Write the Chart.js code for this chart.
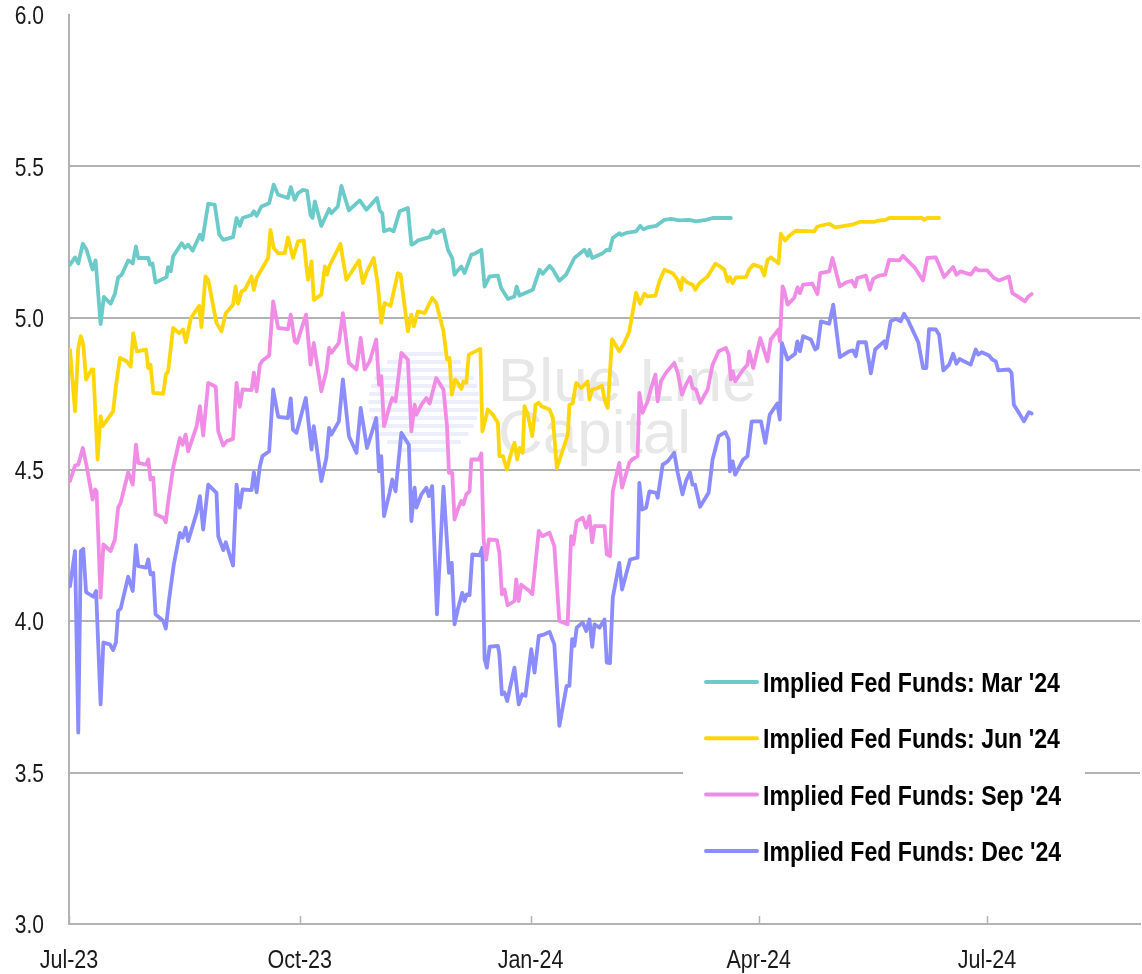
<!DOCTYPE html>
<html><head><meta charset="utf-8">
<script src="https://cdn.jsdelivr.net/npm/chart.js@4.4.1/dist/chart.umd.min.js"></script>
<style>html,body{margin:0;padding:0;background:#fff;overflow:hidden}#wrap{position:relative;width:1142px;height:974px}</style>
</head><body><div id="wrap"><canvas id="c" width="1142" height="974"></canvas></div>
<script>
// x values are days since 1 Jul 2023
const seriesNames = ["Implied Fed Funds: Mar '24","Implied Fed Funds: Jun '24","Implied Fed Funds: Sep '24","Implied Fed Funds: Dec '24"];
const seriesColors = ['#6ccbc8','#ffd60a','#f08ce6','#8a8cff'];
const xTickDays = [0, 92, 184, 275, 366];
const xTickLabels = ['Jul-23','Oct-23','Jan-24','Apr-24','Jul-24'];
const yTickValues = [3.0, 3.5, 4.0, 4.5, 5.0, 5.5, 6.0];

const marDays = [0.4,2.4,3.7,5.5,7.0,9.4,10.6,12.6,13.9,16.6,
18.3,19.6,21.0,23.6,25.4,26.7,27.6,31.6,32.3,33.3,
34.5,38.9,39.5,40.6,41.5,44.9,46.2,47.5,49.3,52.2,
53.2,55.5,58.1,59.9,61.5,65.4,66.8,68.1,69.2,72.8,
73.7,74.8,76.7,79.8,81.6,83.4,87.3,88.4,90.0,91.3,
93.3,94.9,96.3,97.1,98.0,100.6,102.6,103.7,104.6,107.2,
108.6,109.9,111.6,115.9,118.6,122.8,123.9,124.9,125.6,127.8,
129.4,131.8,135.1,136.5,137.8,139.1,143.8,145.1,146.4,149.3,
151.1,152.8,153.7,155.0,156.4,157.7,160.4,161.7,164.4,165.7,
167.7,171.0,172.3,175.0,177.6,178.5,179.6,184.9,187.6,188.9,
191.6,192.9,195.5,198.2,201.5,205.5,206.8,207.5,208.6,212.8,
214.4,215.5,216.8,219.4,220.1,222.7,226.1,227.7,229.0,230.7,
234.1,237.4,240.0,243.3,247.3,250.0,254.0,256.6,263.9];
const marVals = [5.176,5.20,5.18,5.245,5.225,5.16,5.19,4.98,5.07,5.047,
5.08,5.134,5.143,5.19,5.18,5.236,5.198,5.198,5.176,5.18,
5.117,5.135,5.168,5.154,5.203,5.247,5.231,5.242,5.222,5.275,
5.258,5.377,5.374,5.275,5.258,5.267,5.33,5.304,5.33,5.34,
5.352,5.337,5.368,5.379,5.44,5.407,5.396,5.432,5.39,5.412,
5.423,5.42,5.34,5.33,5.385,5.304,5.34,5.36,5.346,5.368,
5.436,5.40,5.355,5.388,5.357,5.396,5.355,5.346,5.286,5.293,
5.286,5.352,5.363,5.242,5.247,5.256,5.267,5.289,5.28,5.291,
5.225,5.198,5.143,5.157,5.17,5.148,5.209,5.212,5.225,5.104,
5.137,5.14,5.099,5.063,5.071,5.104,5.074,5.093,5.159,5.146,
5.172,5.16,5.123,5.143,5.198,5.225,5.205,5.225,5.198,5.214,
5.225,5.223,5.264,5.28,5.274,5.282,5.286,5.304,5.293,5.299,
5.304,5.324,5.327,5.322,5.324,5.319,5.324,5.33,5.33];

const junDays = [0.4,2.4,3.7,4.7,5.7,6.8,9.0,9.7,11.4,12.6,
13.4,17.6,18.7,20.3,23.0,24.6,25.6,27.0,30.7,31.6,
32.5,33.6,37.6,38.6,39.5,41.5,43.9,45.5,46.6,48.6,
51.9,52.8,54.4,55.5,58.8,60.8,62.5,65.4,66.4,67.4,
68.8,70.1,72.8,73.7,74.8,79.4,80.3,81.6,83.4,86.0,
87.3,89.3,90.7,91.3,93.6,94.7,95.3,96.7,97.6,100.6,
102.0,102.9,103.7,108.2,110.6,115.6,117.2,118.8,121.5,123.2,
124.5,125.8,128.2,131.1,132.2,135.1,136.5,137.5,139.1,141.8,
144.8,146.4,149.3,150.7,151.7,152.6,154.0,155.0,156.4,157.3,
158.4,159.4,164.0,164.8,167.0,169.0,171.0,171.6,173.0,174.6,
176.3,177.6,178.7,179.6,180.9,181.6,182.9,184.7,186.0,187.3,
188.3,191.6,192.9,194.5,198.9,199.5,200.8,202.2,204.2,206.8,
207.5,208.6,210.8,212.5,213.5,214.8,216.5,219.4,221.4,223.4,
226.1,227.7,229.4,230.7,233.8,235.4,237.4,240.7,242.7,244.0,
244.6,246.6,248.6,249.7,251.3,254.6,257.7,259.3,261.3,262.6,
263.5,264.6,265.9,269.9,271.2,272.8,275.9,277.2,278.5,279.8,
282.9,283.8,285.5,287.1,289.8,297.1,298.4,303.1,305.5,312.3,
315.0,321.0,322.3,325.7,327.0,340.2,340.9,342.2,346.9];
const junVals = [4.895,4.692,4.901,4.94,4.912,4.797,4.83,4.83,4.533,4.676,
4.643,4.692,4.775,4.868,4.857,4.84,4.95,4.89,4.896,4.835,
4.846,4.753,4.75,4.813,4.824,4.967,4.95,4.962,4.92,5.0,
5.04,4.97,5.137,5.126,4.984,4.956,5.016,5.044,5.104,5.047,
5.088,5.093,5.137,5.093,5.132,5.198,5.291,5.231,5.214,5.214,
5.266,5.198,5.236,5.253,5.256,5.165,5.126,5.187,5.06,5.077,
5.17,5.143,5.17,5.244,5.126,5.19,5.115,5.154,5.198,5.104,
4.984,5.05,5.04,5.148,5.143,4.956,5.011,4.973,5.022,5.016,
5.066,5.05,4.956,4.863,4.868,4.747,4.797,4.786,4.766,4.791,
4.786,4.879,4.898,4.626,4.698,4.681,4.654,4.544,4.544,4.5,
4.555,4.588,4.533,4.571,4.555,4.709,4.681,4.61,4.714,4.72,
4.709,4.698,4.67,4.505,4.615,4.714,4.718,4.786,4.769,4.791,
4.731,4.764,4.769,4.777,4.731,4.703,4.93,4.89,4.918,4.956,
5.084,5.047,5.08,5.071,5.074,5.121,5.159,5.148,5.126,5.093,
5.132,5.117,5.11,5.093,5.115,5.137,5.179,5.172,5.159,5.121,
5.135,5.115,5.134,5.135,5.16,5.176,5.168,5.14,5.192,5.2,
5.181,5.278,5.256,5.271,5.288,5.286,5.302,5.311,5.299,5.308,
5.317,5.317,5.321,5.324,5.33,5.33,5.324,5.33,5.33];

const sepDays = [0.4,2.4,3.7,5.5,7.0,9.4,10.4,11.0,12.6,13.7,
16.6,18.3,19.6,20.6,23.6,25.4,26.7,27.6,30.7,31.6,
32.5,33.6,34.5,37.6,38.6,39.5,41.5,44.2,45.3,46.5,
47.5,50.9,52.2,53.5,55.5,58.5,59.5,61.5,62.8,65.4,
66.8,68.1,69.2,72.8,73.7,74.8,76.1,77.1,79.8,81.4,
83.4,87.3,88.4,90.0,90.9,94.5,96.3,97.6,100.6,102.6,
103.7,104.6,107.6,109.2,111.6,114.6,116.3,117.9,119.9,122.5,
123.6,124.5,125.6,127.8,128.9,130.2,132.5,135.1,136.5,137.8,
138.5,140.5,142.5,143.8,146.4,149.3,150.7,151.5,152.8,153.7,
155.0,156.4,157.3,158.4,159.7,160.4,163.4,164.4,165.3,166.3,
167.4,170.6,171.6,172.6,173.6,174.9,177.6,178.3,179.3,180.3,
183.6,184.7,187.3,188.7,191.6,193.5,195.5,198.8,200.2,201.1,
202.4,204.8,206.2,207.5,208.6,209.5,213.5,214.4,215.7,216.8,
219.4,220.5,223.4,224.5,226.7,227.4,228.7,230.7,232.1,233.8,
234.7,236.0,238.0,241.3,242.7,244.4,246.0,247.6,248.6,250.0,
251.7,254.6,256.6,259.0,261.9,263.0,263.9,264.6,265.6,268.8,
270.5,271.2,272.8,275.6,278.5,279.8,282.9,283.4,284.5,285.1,
286.5,289.1,290.5,291.4,292.7,296.4,298.4,299.5,303.1,304.4,
307.3,309.7,312.1,313.4,314.3,317.7,319.3,320.6,323.0,325.4,
327.0,331.0,332.5,334.7,337.3,340.5,342.2,345.6,346.6,348.9,
352.5,353.8,355.5,359.5,361.5,362.5,366.1,368.8,370.8,374.7,
376.1,378.7,381.1,382.5,383.8];
const sepVals = [4.462,4.513,4.516,4.571,4.513,4.401,4.434,4.428,4.077,4.253,
4.231,4.269,4.374,4.39,4.491,4.45,4.582,4.522,4.516,4.533,
4.467,4.473,4.352,4.341,4.326,4.39,4.505,4.604,4.582,4.615,
4.56,4.643,4.709,4.612,4.786,4.773,4.626,4.579,4.593,4.601,
4.786,4.707,4.764,4.762,4.82,4.758,4.846,4.859,4.876,5.055,
4.967,4.963,5.011,4.923,4.918,5.011,4.846,4.918,4.758,4.824,
4.901,4.885,4.918,5.016,4.852,4.83,4.934,4.83,4.857,4.929,
4.78,4.808,4.643,4.709,4.736,4.725,4.885,4.863,4.626,4.714,
4.681,4.714,4.736,4.718,4.802,4.764,4.643,4.489,4.489,4.335,
4.368,4.396,4.385,4.418,4.428,4.533,4.533,4.553,4.269,4.203,
4.269,4.267,4.225,4.088,4.104,4.052,4.066,4.137,4.066,4.12,
4.099,4.088,4.297,4.28,4.291,4.247,4.0,3.989,4.28,4.253,
4.329,4.341,4.308,4.346,4.26,4.313,4.313,4.22,4.214,4.428,
4.522,4.44,4.522,4.533,4.544,4.753,4.687,4.725,4.769,4.813,
4.725,4.791,4.819,4.852,4.819,4.747,4.78,4.805,4.769,4.764,
4.72,4.764,4.846,4.89,4.901,4.879,4.797,4.824,4.791,4.83,
4.846,4.89,4.835,4.934,4.857,4.929,4.962,4.923,5.104,5.093,
5.044,5.066,5.101,5.082,5.11,5.113,5.079,5.148,5.154,5.198,
5.104,5.117,5.123,5.104,5.132,5.14,5.093,5.129,5.14,5.143,
5.192,5.19,5.205,5.187,5.165,5.124,5.198,5.2,5.181,5.135,
5.168,5.143,5.154,5.143,5.165,5.157,5.157,5.132,5.124,5.137,
5.082,5.069,5.055,5.071,5.079];

const decDays = [0.4,2.4,3.7,4.7,5.7,6.8,9.7,10.8,12.6,13.7,
16.3,17.6,18.7,19.6,20.6,23.6,25.4,26.7,27.6,30.7,
31.6,32.5,33.6,34.5,37.6,38.6,39.9,41.8,44.2,45.3,
46.5,47.5,50.9,52.2,53.5,55.5,58.8,59.5,61.5,62.5,
65.4,66.8,68.1,69.2,72.8,73.7,74.8,76.1,77.1,79.8,
81.4,83.4,87.3,88.4,89.3,90.7,94.4,96.7,97.6,100.6,
102.6,103.7,104.6,107.6,109.2,111.6,114.6,116.3,118.8,122.5,
123.6,124.5,125.6,127.8,128.9,130.2,132.5,135.5,136.5,137.8,
138.5,140.5,142.5,143.5,144.8,146.7,149.3,151.5,152.6,153.7,
155.0,156.8,157.7,158.6,159.7,160.8,163.7,164.8,165.7,166.6,
167.7,171.0,171.6,172.6,173.6,174.7,177.6,179.3,180.7,182.0,
184.3,185.6,187.3,189.6,191.6,193.5,195.5,198.4,199.5,200.6,
201.5,202.4,204.8,206.2,207.5,208.6,209.5,211.5,213.5,214.4,
215.7,216.8,219.4,220.5,223.7,226.7,227.4,228.5,230.1,231.4,
234.1,234.7,236.7,238.7,241.3,242.7,244.6,246.0,247.6,248.6,
249.6,251.6,255.0,256.6,259.0,261.7,263.0,263.5,264.6,265.6,
268.8,270.5,272.2,275.9,277.6,279.4,282.4,283.4,284.2,286.5,
289.5,290.4,291.4,292.7,295.8,297.5,298.4,299.8,303.1,304.7,
307.3,311.0,312.6,313.7,314.7,317.7,319.7,321.4,325.0,325.7,
327.6,329.6,331.6,332.9,334.6,335.6,338.6,340.5,341.8,342.9,
345.6,346.9,348.6,350.9,352.5,353.8,355.1,356.8,359.5,361.5,
362.5,363.9,366.8,368.1,369.5,370.5,374.7,375.8,376.7,378.7,
380.7,382.7,383.8];
const decVals = [4.115,4.231,3.632,4.231,4.238,4.095,4.08,4.099,3.725,3.929,
3.923,3.904,3.929,4.033,4.041,4.146,4.099,4.25,4.181,4.176,
4.203,4.154,4.159,4.022,4.0,3.975,4.071,4.187,4.291,4.275,
4.308,4.264,4.357,4.412,4.302,4.45,4.423,4.28,4.234,4.26,
4.183,4.45,4.374,4.434,4.432,4.491,4.425,4.511,4.544,4.56,
4.764,4.674,4.67,4.735,4.632,4.621,4.736,4.566,4.643,4.462,
4.538,4.637,4.615,4.659,4.797,4.61,4.555,4.703,4.571,4.67,
4.494,4.544,4.346,4.423,4.467,4.428,4.621,4.582,4.33,4.44,
4.374,4.418,4.44,4.412,4.445,4.022,4.443,4.159,4.192,3.989,
4.038,4.093,4.066,4.088,4.085,4.22,4.217,4.242,3.874,3.846,
3.915,3.918,3.89,3.758,3.764,3.736,3.846,3.725,3.758,3.753,
3.907,3.83,3.951,3.956,3.964,3.923,3.654,3.786,3.786,3.94,
3.918,3.978,3.995,3.967,4.005,3.915,3.989,3.978,4.005,3.863,
3.861,4.077,4.192,4.104,4.203,4.209,4.456,4.368,4.374,4.428,
4.423,4.407,4.516,4.527,4.555,4.489,4.418,4.462,4.491,4.45,
4.45,4.377,4.423,4.533,4.61,4.623,4.599,4.494,4.527,4.483,
4.533,4.544,4.659,4.659,4.588,4.681,4.718,4.665,4.918,4.863,
4.882,4.923,4.89,4.94,4.929,4.896,4.901,4.989,4.981,5.044,
4.871,4.89,4.893,4.874,4.92,4.92,4.817,4.896,4.923,4.901,
4.989,4.997,4.989,5.014,4.992,4.973,4.92,4.835,4.835,4.963,
4.962,4.945,4.827,4.846,4.882,4.849,4.865,4.857,4.846,4.896,
4.879,4.887,4.876,4.863,4.857,4.827,4.83,4.819,4.714,4.687,
4.659,4.689,4.685];

const SANS = "'Liberation Sans',Arial,sans-serif";
const GRID = '#b2b2b2';
const TEXT = '#1a1a1a';

function pts(days, vals){ const n=Math.min(days.length, vals.length); const a=[]; for(let i=0;i<n;i++) a.push({x:days[i], y:vals[i]}); return a; }
const allDays=[marDays,junDays,sepDays,decDays], allVals=[marVals,junVals,sepVals,decVals];

// squeeze text horizontally to mimic the narrow face of the original
function narrowText(ctx, txt, x, y, align, squeeze){
  ctx.save(); ctx.translate(x, y); ctx.scale(squeeze, 1); ctx.textAlign=align; ctx.fillText(txt, 0, 0); ctx.restore();
}

const watermark = {
  id:'watermark',
  beforeDatasetsDraw(chart){
    const ctx=chart.ctx; ctx.save();
    const cx=422, cy=402, r=52;
    ctx.strokeStyle='#eceefb'; ctx.lineCap='round'; ctx.lineWidth=4;
    for(let dy=-48; dy<=48; dy+=8){
      const half=Math.sqrt(Math.max(0,r*r-dy*dy));
      ctx.beginPath(); ctx.moveTo(cx-half, cy+dy); ctx.lineTo(cx+half+4, cy+dy); ctx.stroke();
    }
    ctx.fillStyle='#e7e7e7';
    ctx.font="62px "+SANS; ctx.textBaseline='alphabetic';
    ctx.fillText('Blue Line', 498, 401);
    ctx.fillText('Capital', 498, 453);
    ctx.restore();
  }
};
const axisText = {
  id:'axisText',
  afterDraw(chart){
    const ctx=chart.ctx, xs=chart.scales.x, ys=chart.scales.y, a=chart.chartArea;
    ctx.save();
    ctx.strokeStyle=GRID; ctx.lineWidth=1.5;
    xTickDays.forEach(d=>{ const px=Math.round(xs.getPixelForValue(d))+0.5; ctx.beginPath(); ctx.moveTo(px,a.bottom-8); ctx.lineTo(px,a.bottom); ctx.stroke(); });
    ctx.fillStyle=TEXT; ctx.font="25px "+SANS; ctx.textBaseline='alphabetic';
    xTickDays.forEach((d,i)=> narrowText(ctx, xTickLabels[i], xs.getPixelForValue(d), a.bottom+44, 'center', 0.86));
    yTickValues.forEach(v=> narrowText(ctx, v.toFixed(1), a.left-25, ys.getPixelForValue(v)+9, 'right', 0.84));
    ctx.restore();
  }
};
const legendBox = {
  id:'legendBox',
  afterDatasetsDraw(chart){
    const ctx=chart.ctx; ctx.save();
    ctx.fillStyle='#ffffff'; ctx.fillRect(683, 652, 402, 228);
    ctx.font="bold 28px "+SANS; ctx.textBaseline='alphabetic';
    chart.data.datasets.forEach((ds,i)=>{
      const y=682+i*56.3;
      ctx.strokeStyle=ds.borderColor; ctx.lineWidth=4; ctx.lineCap='round';
      ctx.beginPath(); ctx.moveTo(706,y); ctx.lineTo(757,y); ctx.stroke();
      ctx.fillStyle='#000';
      narrowText(ctx, ds.label, 763, y+10, 'left', 0.825);
    });
    ctx.restore();
  }
};

new Chart(document.getElementById('c'), {
  type:'line',
  data:{ datasets: seriesNames.map((name,i)=>({
    label:name, data:pts(allDays[i], allVals[i]), borderColor:seriesColors[i], backgroundColor:seriesColors[i],
    borderWidth:3.8, pointRadius:0, tension:0, fill:false, borderJoinStyle:'round', borderCapStyle:'round'
  }))},
  options:{
    responsive:false, animation:false, devicePixelRatio:1,
    layout:{ padding:{ top:15, right:2, left:0, bottom:0 } },
    plugins:{ legend:{display:false}, tooltip:{enabled:false} },
    scales:{
      x:{ type:'linear', min:0, max:427,
        afterBuildTicks: s => { s.ticks = xTickDays.map(v=>({value:v})); },
        afterFit: s => { s.height = 50; },
        ticks:{ display:false },
        grid:{ display:false, drawTicks:false },
        border:{ display:true, color:GRID, width:2 }
      },
      y:{ min:3, max:6,
        afterBuildTicks: s => { s.ticks = yTickValues.map(v=>({value:v})); },
        afterFit: s => { s.width = 69; },
        ticks:{ display:false },
        grid:{ drawTicks:false, lineWidth:2, color: c => (c.tick && c.tick.value===6) ? 'rgba(0,0,0,0)' : GRID },
        border:{ display:true, color:GRID, width:2 }
      }
    }
  },
  plugins:[watermark, axisText, legendBox]
});
</script></body></html>
